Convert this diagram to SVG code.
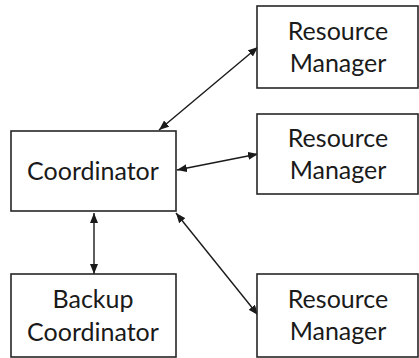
<svg xmlns="http://www.w3.org/2000/svg" width="419" height="358" viewBox="0 0 419 358">
  <style>
    .box { fill: #ffffff; stroke: #262626; stroke-width: 1.6; }
    .label { font-family: "Lato", "Liberation Sans", sans-serif; font-size: 25px; fill: #1a1a1a; text-anchor: middle; }
    .link { stroke: #1a1a1a; stroke-width: 1.4; fill: none; marker-start: url(#head); marker-end: url(#head); }
  </style>
  <defs>
    <marker id="head" viewBox="0 0 10 8" refX="10" refY="4" markerWidth="10" markerHeight="8" markerUnits="userSpaceOnUse" orient="auto-start-reverse">
      <path d="M0,0 L10,4 L0,8 Z" fill="#1a1a1a"/>
    </marker>
  </defs>
  <rect width="419" height="358" fill="#ffffff"/>

  <g id="connectors">
    <line class="link" x1="159" y1="130" x2="258" y2="47"/>
    <line class="link" x1="177" y1="170" x2="258" y2="154"/>
    <line class="link" x1="176" y1="213" x2="258" y2="315"/>
    <line class="link" x1="94" y1="213" x2="94" y2="274"/>
  </g>

  <g id="coordinator">
    <rect class="box" x="11" y="131" width="165" height="80"/>
    <text class="label" x="93" y="180">Coordinator</text>
  </g>

  <g id="backup-coordinator">
    <rect class="box" x="11" y="274" width="165" height="83"/>
    <text class="label" x="93" y="308">Backup</text>
    <text class="label" x="93" y="341">Coordinator</text>
  </g>

  <g id="resource-manager-1">
    <rect class="box" x="257" y="6" width="161" height="82"/>
    <text class="label" x="338" y="40">Resource</text>
    <text class="label" x="338" y="72">Manager</text>
  </g>

  <g id="resource-manager-2">
    <rect class="box" x="257" y="114" width="161" height="80"/>
    <text class="label" x="338" y="147">Resource</text>
    <text class="label" x="338" y="179">Manager</text>
  </g>

  <g id="resource-manager-3">
    <rect class="box" x="257" y="274" width="161" height="83"/>
    <text class="label" x="338" y="308">Resource</text>
    <text class="label" x="338" y="340">Manager</text>
  </g>
</svg>
